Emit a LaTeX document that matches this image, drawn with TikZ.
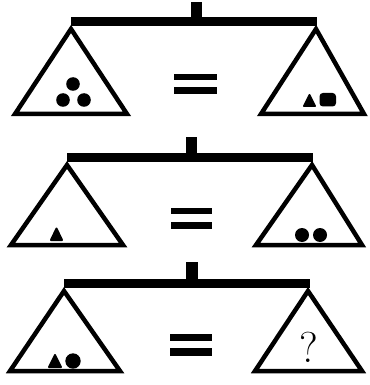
\documentclass[tikz,border=0pt]{standalone}
\begin{document}
\begin{tikzpicture}[x=1pt,y=-1pt,
  pan/.style={line width=4.5pt,line join=miter},
  bar/.style={fill=black},
  tri/.style={fill=black,draw=black,line width=2pt,line join=round},
  sq/.style={fill=black,draw=black,line width=1pt,rounded corners=3pt}]
\useasboundingbox (0,0) rectangle (369,385);
% ---- scale 1 ----
\fill[bar] (191,2) rectangle (202,17);
\fill[bar] (71,17) rectangle (317,26);
\draw[pan] (71,29) -- (127,114) -- (15,114) -- cycle;
\draw[pan] (316,29) -- (364,114) -- (261,114) -- cycle;
\fill[bar] (174,74) rectangle (217,80);
\fill[bar] (174,87) rectangle (217,94);
\fill (73,84) circle (6.8);
\fill (63,100) circle (6.8);
\fill (84,100) circle (6.8);
\draw[tri] (304,106) -- (309.5,95) -- (315,106) -- cycle;
\draw[sq] (320,93.5) rectangle (335.5,106);
% ---- scale 2 ----
\fill[bar] (186,137) rectangle (197,153);
\fill[bar] (67,153) rectangle (313,162);
\draw[pan] (67,165) -- (123,245) -- (11,245) -- cycle;
\draw[pan] (312,165) -- (362,245) -- (256,245) -- cycle;
\fill[bar] (171,208) rectangle (212,214);
\fill[bar] (171,222) rectangle (212,229);
\draw[tri] (51,240) -- (56.5,228.5) -- (62,240) -- cycle;
\fill (302,235) circle (7);
\fill (320,235) circle (7);
% ---- scale 3 ----
\fill[bar] (186,262) rectangle (198,279);
\fill[bar] (64,279) rectangle (310,288);
\draw[pan] (64,291) -- (120,371) -- (10,371) -- cycle;
\draw[pan] (308,291) -- (362,371) -- (255,371) -- cycle;
\fill[bar] (170,334) rectangle (212,341);
\fill[bar] (170,348) rectangle (212,356);
\draw[tri] (49,367) -- (55,355) -- (61,367) -- cycle;
\fill (73,361) circle (7.7);
\node[font=\fontsize{24}{24}\selectfont,scale=1.8,inner sep=0pt] (q) at (309,347.5) {?};
\end{tikzpicture}
\end{document}
